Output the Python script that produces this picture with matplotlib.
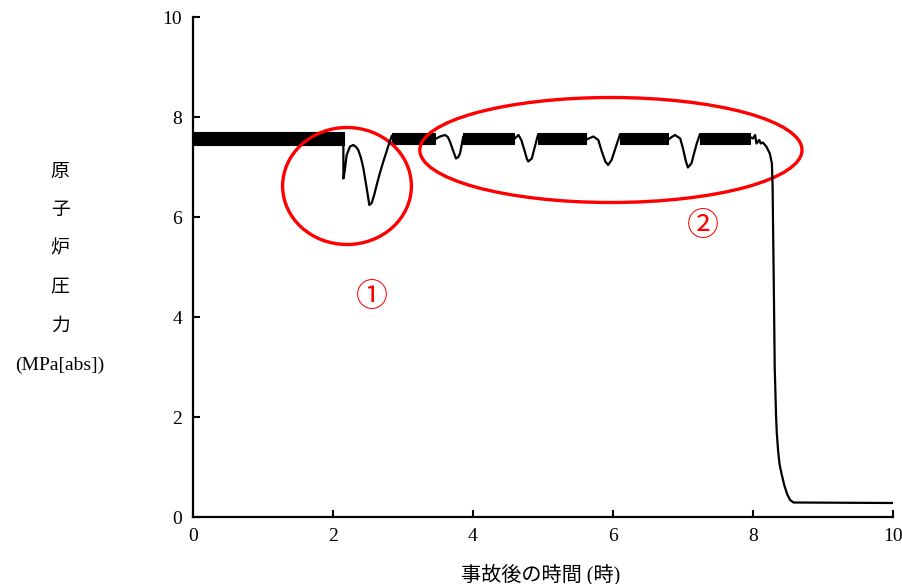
import matplotlib
matplotlib.use('Agg')
import matplotlib.pyplot as plt
from matplotlib.patches import Ellipse

# oscillating (noisy) segments: drawn as a filled band between low/high
band_start = [0.00, 2.84, 3.86, 4.93, 6.10, 7.24]
band_end = [2.15, 3.45, 4.58, 5.62, 6.79, 7.96]
band_low = [7.45, 7.46, 7.46, 7.46, 7.46, 7.46]
band_high = [7.70, 7.68, 7.69, 7.69, 7.69, 7.69]

# smooth parts between the bands
dip_t = [
    [2.148, 2.149, 2.17, 2.195, 2.243, 2.29, 2.33, 2.361, 2.40, 2.433, 2.481,
     2.519, 2.553, 2.59, 2.624, 2.67, 2.719, 2.804, 2.84],
    [3.45, 3.53, 3.60, 3.64, 3.67, 3.72, 3.757, 3.79, 3.814, 3.86],
    [4.58, 4.65, 4.69, 4.74, 4.77, 4.79, 4.84, 4.89, 4.93],
    [5.62, 5.67, 5.72, 5.79, 5.84, 5.89, 5.93, 5.98, 6.05, 6.10],
    [6.79, 6.84, 6.886, 6.96, 7.00, 7.04, 7.07, 7.12, 7.19, 7.24],
    [7.96, 8.00, 8.03, 8.05, 8.09, 8.11, 8.14, 8.19, 8.24, 8.27, 8.28,
     8.285, 8.30, 8.31, 8.33, 8.34, 8.36, 8.38, 8.41, 8.45, 8.49, 8.53,
     8.58, 10.0],
]
dip_p = [
    [7.55, 6.77, 6.95, 7.24, 7.41, 7.44, 7.40, 7.34, 7.18, 6.98, 6.58,
     6.24, 6.28, 6.45, 6.64, 6.88, 7.11, 7.48, 7.62],
    [7.55, 7.61, 7.64, 7.60, 7.51, 7.31, 7.17, 7.20, 7.27, 7.60],
    [7.55, 7.64, 7.54, 7.31, 7.16, 7.11, 7.17, 7.44, 7.65],
    [7.55, 7.58, 7.61, 7.54, 7.31, 7.11, 7.04, 7.14, 7.44, 7.65],
    [7.55, 7.60, 7.64, 7.57, 7.37, 7.12, 6.99, 7.07, 7.44, 7.65],
    [7.60, 7.57, 7.64, 7.47, 7.54, 7.47, 7.49, 7.41, 7.27, 7.07, 6.61,
     6.00, 4.30, 3.00, 2.00, 1.68, 1.30, 1.05, 0.85, 0.62, 0.45, 0.34,
     0.29, 0.28],
]

x_ticks = [0, 2, 4, 6, 8, 10]
y_ticks = [0, 2, 4, 6, 8, 10]
ylabel_chars = ['原', '子', '炉', '圧', '力', '(MPa[abs])']
xlabel = '事故後の時間 (時)'

# red ellipses: (center x, center y, width, height) and the circled numbers
ellipses = [(2.20, 6.62, 1.84, 2.34), (5.97, 7.34, 5.46, 2.10)]
marks = [('①', 2.56, 4.40), ('②', 7.29, 5.82)]

fonts = ['Liberation Serif', 'Noto Sans CJK JP', 'DejaVu Sans']
plt.rcParams['font.family'] = fonts

fig = plt.figure(figsize=(9.03, 5.84), dpi=100)
ax = fig.add_axes([193 / 903, 1 - 517 / 584, 700 / 903, 500 / 584])

for s, e, lo, hi in zip(band_start, band_end, band_low, band_high):
    ax.fill_between([s, e], [lo, lo], [hi, hi], color='black', lw=0.8)
for t, p in zip(dip_t, dip_p):
    ax.plot(t, p, color='black', lw=1.6, solid_joinstyle='round')

for cx, cy, w, h in ellipses:
    ax.add_patch(Ellipse((cx, cy), w, h, fill=False, edgecolor='#ff0000', lw=2.4))
for txt, mx, my in marks:
    ax.text(mx, my, txt, color='#ff0000', fontsize=23, ha='center', va='center',
            family=['Noto Sans CJK JP', 'DejaVu Sans'])

ax.set_xlim(0, 10)
ax.set_ylim(0, 10)
ax.set_xticks(x_ticks)
ax.set_yticks(y_ticks)
ax.tick_params(direction='in', length=5, width=1.5, labelsize=14, pad=8)
for side in ['top', 'right']:
    ax.spines[side].set_visible(False)
for side in ['left', 'bottom']:
    ax.spines[side].set_linewidth(1.6)

for i, ch in enumerate(ylabel_chars):
    fig.text(60 / 903, 1 - (172 + 38.6 * i) / 584, ch, ha='center', va='center',
             fontsize=13.5 if i < 5 else 14)
fig.text(541 / 903, 1 - 575 / 584, xlabel, ha='center', va='center', fontsize=14.5)

fig.savefig('out.png', dpi=100)
